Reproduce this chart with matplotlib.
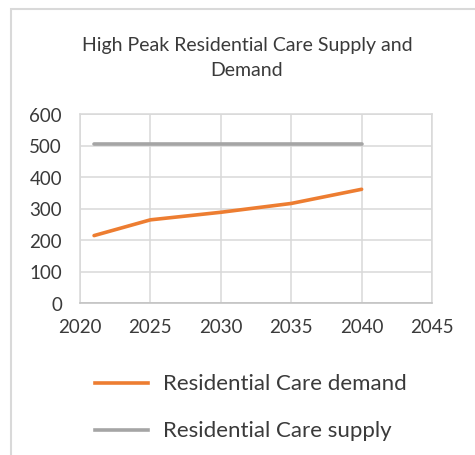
import matplotlib
matplotlib.use("Agg")
import matplotlib.pyplot as plt
from matplotlib.patches import Rectangle
from matplotlib.lines import Line2D

years_demand = [2021, 2025, 2030, 2035, 2040]
demand = [214, 264, 288, 316, 361]
years_supply = [2021, 2025, 2030, 2035, 2040]
supply = [505, 505, 505, 505, 505]
x_ticks = [2020, 2025, 2030, 2035, 2040, 2045]
y_ticks = [0, 100, 200, 300, 400, 500, 600]

title = "High Peak Residential Care Supply and\nDemand"
label_demand = "Residential Care demand"
label_supply = "Residential Care supply"

orange = "#ED7D31"
grey = "#A5A5A5"
text_col = "#3A3A3A"
grid_col = "#D9D9D9"

plt.rcParams['font.family'] = ['Lato', 'DejaVu Sans']

W, H = 475, 456
fig = plt.figure(figsize=(W / 100, H / 100), dpi=100)
fig.patch.set_facecolor("white")

# chart frame
fig.patches.append(Rectangle((11 / W, -0.1), 1.2, 1 - 10 / H + 0.1,
                             transform=fig.transFigure, fill=False,
                             edgecolor="#D9D9D9", linewidth=1.5))

ax = fig.add_axes([80 / W, 1 - 304 / H, (432 - 80) / W, (304 - 115) / H])
ax.plot(years_demand, demand, color=orange, linewidth=2.6, solid_capstyle="round")
ax.plot(years_supply, supply, color=grey, linewidth=2.6, solid_capstyle="round")

ax.set_xlim(2020, 2045)
ax.set_ylim(0, 600)
ax.set_xticks(x_ticks)
ax.set_yticks(y_ticks)
ax.grid(True, color=grid_col, linewidth=1.1)
ax.set_axisbelow(True)
for s in ax.spines.values():
    s.set_color(grid_col)
    s.set_linewidth(1.1)
ax.spines['bottom'].set_color("#BFBFBF")
ax.tick_params(length=0, labelsize=13.5, labelcolor=text_col)
ax.tick_params(axis="y", pad=13)
ax.tick_params(axis="x", pad=11)

fig.text(247 / W, 1 - 58 / H, title, ha="center", va="center",
         fontsize=14, color=text_col, linespacing=1.5)

# legend
for y, col, lab in [(384, orange, label_demand), (431, grey, label_supply)]:
    fig.add_artist(Line2D([95 / W, 148 / W], [1 - y / H, 1 - y / H],
                          transform=fig.transFigure, color=col, linewidth=2.6))
    fig.text(163 / W, 1 - y / H, lab, ha="left", va="center",
             fontsize=16, color=text_col)

fig.savefig("out.png", dpi=100)
